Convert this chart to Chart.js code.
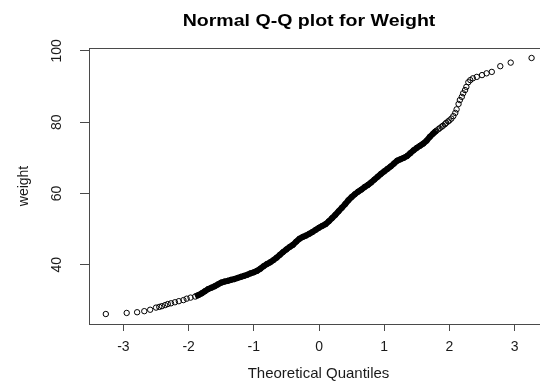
<!DOCTYPE html>
<html>
<head>
<meta charset="utf-8">
<script src="https://cdn.jsdelivr.net/npm/chart.js@4.4.1/dist/chart.umd.min.js"></script>
<style>
  html, body { margin: 0; padding: 0; background: #fff; overflow: hidden; }
</style>
</head>
<body>
<canvas id="qqChart" width="560" height="383"></canvas>
<script>
const chartTitle = 'Normal Q-Q plot for Weight'
const xTitle = 'Theoretical Quantiles'
const yTitle = 'weight'
const xTicks = [-3, -2, -1, 0, 1, 2, 3]
const yTicks = [40, 60, 80, 100]

// points (theoretical quantile, sample weight)
const theoretical = [
  -3.27, -2.95, -2.79, -2.68, -2.59, -2.50, -2.45, -2.41, -2.36, -2.32,
  -2.27, -2.21, -2.15, -2.08, -2.03, -1.97,
  -1.90, -1.85, -1.80, -1.75, -1.70, -1.65, -1.60, -1.55, -1.50, -1.45,
  -1.40, -1.35, -1.30, -1.25, -1.20, -1.15, -1.10, -1.05, -1.00, -0.95,
  -0.90, -0.85, -0.80, -0.75, -0.70, -0.65, -0.60, -0.55, -0.50, -0.45,
  -0.40, -0.35, -0.30, -0.25, -0.20, -0.15, -0.10, -0.05, 0.00, 0.05,
  0.10, 0.15, 0.20, 0.25, 0.30, 0.35, 0.40, 0.45, 0.50, 0.55,
  0.60, 0.65, 0.70, 0.75, 0.80, 0.85, 0.90, 0.95, 1.00, 1.05,
  1.10, 1.15, 1.20, 1.25, 1.30, 1.35, 1.40, 1.45, 1.50, 1.55,
  1.60, 1.65, 1.70, 1.75, 1.78, 1.80, 1.83, 1.85, 1.88, 1.90,
  1.93, 1.95, 1.98, 2.00, 2.03,
  2.06, 2.09, 2.11, 2.14, 2.16, 2.19, 2.21, 2.24, 2.26, 2.29,
  2.32, 2.36, 2.42, 2.50, 2.57, 2.65, 2.78, 2.94, 3.26
]
const weight = [
  26.2, 26.5, 26.7, 27.0, 27.4, 28.0, 28.2, 28.4, 28.7, 29.0,
  29.2, 29.5, 29.8, 30.1, 30.5, 30.8,
  31.1, 31.5, 32.0, 32.6, 33.2, 33.6, 34.0, 34.5, 35.0, 35.3,
  35.5, 35.8, 36.0, 36.3, 36.6, 36.9, 37.2, 37.6, 37.9, 38.3,
  38.9, 39.6, 40.2, 40.7, 41.3, 42.0, 42.8, 43.6, 44.3, 45.0,
  45.6, 46.5, 47.3, 47.8, 48.2, 48.7, 49.2, 49.8, 50.4, 50.9,
  51.4, 52.2, 53.1, 54.0, 55.0, 56.0, 57.0, 58.1, 59.0, 59.8,
  60.5, 61.1, 61.8, 62.4, 63.1, 63.9, 64.7, 65.5, 66.2, 66.9,
  67.6, 68.4, 69.2, 69.6, 70.0, 70.5, 71.3, 72.1, 72.8, 73.4,
  74.0, 74.8, 75.9, 76.8, 77.3, 77.6, 78.0, 78.3, 78.7, 79.0,
  79.4, 79.8, 80.2, 80.5, 81.0,
  81.7, 82.6, 83.6, 85.1, 86.2, 87.1, 88.1, 89.0, 89.9, 91.2,
  91.8, 92.3, 92.7, 93.2, 93.7, 94.1, 95.7, 96.7, 98.0
]

// where the overlapping circles merge into a solid band
const denseFrom = -1.9
const denseTo = 1.8

const points = theoretical.map((q, i) => ({ x: q, y: weight[i] }))
const densePoints = points.filter(p => p.x >= denseFrom && p.x <= denseTo)

const textColor = '#1a1a1a'
const axisColor = '#4a4a4a'
const fontFamily = '"Liberation Sans", Arial, sans-serif'

// R-like extras: box around the plot, rotated y labels, title over the plot
const rStyle = {
  id: 'rStyle',
  afterDraw(chart) {
    const { ctx, chartArea, scales } = chart
    ctx.save()
    ctx.strokeStyle = axisColor
    ctx.lineWidth = 1
    ctx.strokeRect(chartArea.left + 0.5, chartArea.top + 0.5,
      chartArea.right - chartArea.left, chartArea.bottom - chartArea.top)

    ctx.fillStyle = textColor
    ctx.font = '14px ' + fontFamily
    ctx.textAlign = 'center'
    ctx.textBaseline = 'middle'
    yTicks.forEach(v => {
      const y = scales.y.getPixelForValue(v)
      ctx.save()
      ctx.translate(57, y)
      ctx.rotate(-Math.PI / 2)
      ctx.fillText(String(v), 0, 0)
      ctx.restore()
    })

    ctx.fillStyle = '#000'
    ctx.font = 'bold 17px ' + fontFamily
    ctx.translate(309, 21)
    ctx.scale(1.15, 1)
    ctx.fillText(chartTitle, 0, 0)
    ctx.restore()
  }
}

new Chart(document.getElementById('qqChart'), {
  type: 'scatter',
  data: {
    datasets: [
      {
        type: 'line',
        data: densePoints,
        borderColor: '#000',
        borderWidth: 6,
        pointRadius: 0,
        tension: 0,
        fill: false,
        order: 2
      },
      {
        data: points,
        borderColor: '#000',
        backgroundColor: 'rgba(0,0,0,0)',
        borderWidth: 1,
        pointRadius: 2.7,
        order: 1
      }
    ]
  },
  options: {
    responsive: false,
    animation: false,
    layout: {
      padding: { top: 48, right: 12, left: 0, bottom: 0 }
    },
    scales: {
      x: {
        type: 'linear',
        min: -3.528,
        max: 3.512,
        afterBuildTicks: scale => { scale.ticks = xTicks.map(v => ({ value: v })) },
        afterFit: scale => { scale.height = 59 },
        grid: { drawOnChartArea: false, drawTicks: true, tickLength: 7, color: axisColor },
        border: { display: true, color: axisColor },
        ticks: {
          color: textColor,
          padding: 8,
          maxRotation: 0,
          minRotation: 0,
          font: { family: fontFamily, size: 14 }
        },
        title: {
          display: true,
          text: xTitle,
          color: textColor,
          padding: { top: 0, bottom: 0 },
          font: { family: fontFamily, size: 15 }
        }
      },
      y: {
        type: 'linear',
        min: 23.4,
        max: 100.8,
        afterBuildTicks: scale => { scale.ticks = yTicks.map(v => ({ value: v })) },
        afterFit: scale => { scale.width = 89 },
        grid: { drawOnChartArea: false, drawTicks: true, tickLength: 9, color: axisColor },
        border: { display: true, color: axisColor },
        ticks: { display: false },
        title: {
          display: true,
          text: yTitle,
          color: textColor,
          padding: { top: 16, bottom: 0 },
          font: { family: fontFamily, size: 14 }
        }
      }
    },
    plugins: {
      legend: { display: false },
      tooltip: { enabled: false },
      title: { display: false }
    }
  },
  plugins: [rStyle]
})
</script>
</body>
</html>
